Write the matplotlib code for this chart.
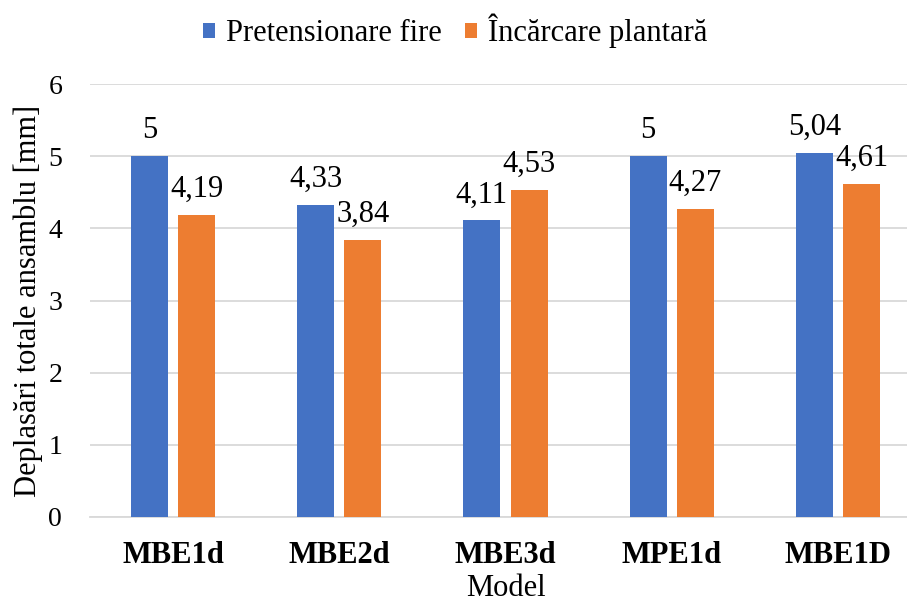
import matplotlib
matplotlib.use("Agg")
import matplotlib.pyplot as plt
import numpy as np

categories = ["MBE1d", "MBE2d", "MBE3d", "MPE1d", "MBE1D"]
pretensionare = [5.00, 4.33, 4.11, 5.00, 5.04]
incarcare = [4.19, 3.84, 4.53, 4.27, 4.61]
labels_pre = ["5", "4,33", "4,11", "5", "5,04"]
labels_inc = ["4,19", "3,84", "4,53", "4,27", "4,61"]
series_names = ["Pretensionare fire", "Încărcare plantară"]
yticks = [0, 1, 2, 3, 4, 5, 6]

plt.rcParams["font.family"] = ["Liberation Serif", "DejaVu Serif"]

W, H = 907, 606
fig = plt.figure(figsize=(W / 100, H / 100), dpi=100)
# plot area in pixel coordinates (extends slightly past the right edge)
left_px, right_px = 90, 921
top_px, bottom_px = 84, 517
ax = fig.add_axes([left_px / W, 1 - bottom_px / H,
                   (right_px - left_px) / W, (bottom_px - top_px) / H])

x = np.arange(len(categories))
bw = 0.223
off = 0.142
c1, c2 = "#4472C4", "#ED7D31"
b1 = ax.bar(x - off, pretensionare, bw, color=c1, label=series_names[0], zorder=3)
b2 = ax.bar(x + off, incarcare, bw, color=c2, label=series_names[1], zorder=3)

fs_big = 22
fs_tick = 20
for bars, labs in ((b1, labels_pre), (b2, labels_inc)):
    for rect, lab in zip(bars, labs):
        ax.annotate(lab, (rect.get_x() + rect.get_width() / 2, rect.get_height()),
                    xytext=(0, 13), textcoords="offset points",
                    ha="center", va="baseline", fontsize=fs_big)

ax.set_xlim(-0.5, len(categories) - 0.5)
ax.set_ylim(0, 6)
ax.set_yticks(yticks)
ax.set_yticklabels([str(t) for t in yticks], fontsize=fs_tick)
ax.set_xticks(x)
ax.set_xticklabels(categories, fontsize=fs_big, fontweight="bold")
ax.tick_params(length=0)
ax.tick_params(axis="x", pad=17)
ax.tick_params(axis="y", pad=20)
ax.grid(axis="y", color="#d9d9d9", linewidth=1.3, zorder=0)
for s in ("top", "right", "left"):
    ax.spines[s].set_visible(False)
ax.spines["bottom"].set_color("#d9d9d9")
ax.spines["bottom"].set_linewidth(1.3)

ax.set_ylabel("Deplasări totale ansamblu [mm]", fontsize=fs_big, labelpad=4)
ax.set_xlabel("Model", fontsize=fs_big, labelpad=3)

fig.legend(handles=[b1, b2], labels=series_names, loc="center",
           bbox_to_anchor=(455 / W, 1 - 31 / H), ncol=2, frameon=False,
           fontsize=fs_big, handlelength=0.4, handleheight=0.4, handletextpad=0.35,
           columnspacing=0.75, borderpad=0.2)

fig.savefig("out.png", dpi=100)
